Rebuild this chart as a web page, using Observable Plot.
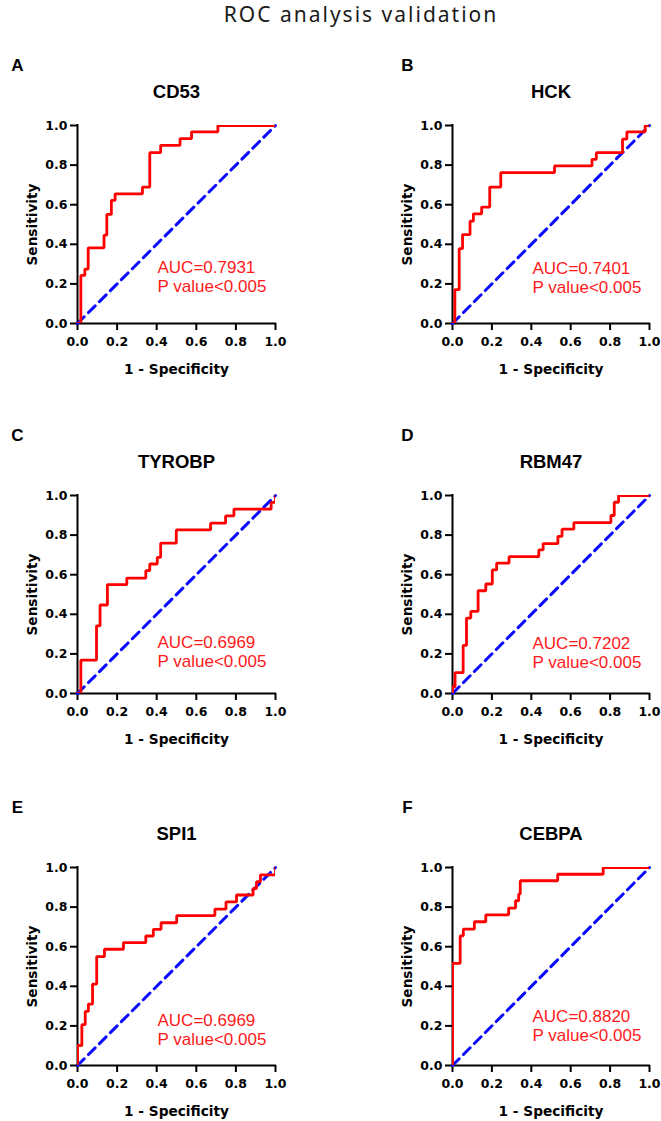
<!DOCTYPE html>
<html>
<head>
<meta charset="utf-8">
<script src="https://cdn.jsdelivr.net/npm/d3@7"></script>
<script src="https://cdn.jsdelivr.net/npm/@observablehq/plot@0.6"></script>
<style>
  html, body { margin: 0; padding: 0; background: #ffffff; }
  #wrap { position: relative; width: 661px; height: 1121px; overflow: hidden; background: #ffffff; }
  #title { position: absolute; top: 4px; left: 361px; transform: translateX(-50%); white-space: nowrap;
           font-family: "Noto Sans", "Open Sans", sans-serif; font-size: 21px; line-height: 21px;
           letter-spacing: 2px; color: #1a1a1a; }
  .panel { position: absolute; }
</style>
</head>
<body>
<div id="wrap"><div id="title">ROC analysis validation</div></div>
<script>
// ---------------- data ----------------
const genes = ["CD53", "HCK", "TYROBP", "RBM47", "SPI1", "CEBPA"];
const panelLetters = ["A", "B", "C", "D", "E", "F"];
const aucValues = ["0.7931", "0.7401", "0.6969", "0.7202", "0.6969", "0.8820"];
const pValueText = "P value<0.005";
const axisTicks = [0, 0.2, 0.4, 0.6, 0.8, 1.0];
const chanceLine = [0, 1];
const xAxisTitle = "1 - Specificity";
const yAxisTitle = "Sensitivity";

// step corners (1 - specificity, sensitivity)
const cd53Fpr = [0, 0.017, 0.037, 0.054, 0.134, 0.148, 0.171, 0.190, 0.328, 0.365, 0.420, 0.518, 0.576, 0.709, 1.0];
const cd53Tpr = [0, 0.243, 0.275, 0.382, 0.446, 0.551, 0.622, 0.655, 0.689, 0.863, 0.900, 0.934, 0.968, 1.0, 1.0];

const hckFpr = [0, 0.012, 0.034, 0.051, 0.089, 0.106, 0.148, 0.189, 0.245, 0.518, 0.708, 0.730, 0.863, 0.885, 0.978, 1.0];
const hckTpr = [0, 0.171, 0.378, 0.449, 0.517, 0.554, 0.588, 0.689, 0.762, 0.796, 0.829, 0.863, 0.931, 0.968, 1.0, 1.0];

const tyrobpFpr = [0, 0.017, 0.096, 0.114, 0.151, 0.249, 0.345, 0.365, 0.403, 0.420, 0.499, 0.672, 0.748, 0.790, 0.978, 1.0];
const tyrobpTpr = [0, 0.169, 0.342, 0.447, 0.550, 0.583, 0.621, 0.654, 0.688, 0.759, 0.826, 0.860, 0.897, 0.931, 0.965, 1.0];

const rbm47Fpr = [0, 0, 0.013, 0.054, 0.071, 0.093, 0.130, 0.169, 0.202, 0.224, 0.287, 0.438, 0.460, 0.535, 0.556, 0.616, 0.804, 0.821, 0.843, 1.0];
const rbm47Tpr = [0, 0.034, 0.105, 0.243, 0.381, 0.415, 0.519, 0.553, 0.624, 0.658, 0.691, 0.725, 0.757, 0.794, 0.830, 0.863, 0.899, 0.966, 1.0, 1.0];

const spi1Fpr = [0, 0, 0.022, 0.039, 0.055, 0.076, 0.097, 0.136, 0.232, 0.345, 0.383, 0.422, 0.501, 0.694, 0.750, 0.803, 0.887, 0.904, 0.924, 1.0];
const spi1Tpr = [0, 0.101, 0.206, 0.273, 0.310, 0.411, 0.550, 0.587, 0.621, 0.654, 0.688, 0.721, 0.757, 0.790, 0.826, 0.861, 0.894, 0.928, 0.963, 1.0];

const cebpaFpr = [0, 0, 0.039, 0.055, 0.111, 0.169, 0.285, 0.320, 0.336, 0.344, 0.534, 0.765, 1.0];
const cebpaTpr = [0, 0.516, 0.655, 0.689, 0.726, 0.761, 0.795, 0.832, 0.866, 0.933, 0.966, 1.0, 1.0];

const fprSeries = [cd53Fpr, hckFpr, tyrobpFpr, rbm47Fpr, spi1Fpr, cebpaFpr];
const tprSeries = [cd53Tpr, hckTpr, tyrobpTpr, rbm47Tpr, spi1Tpr, cebpaTpr];

// ---------------- layout ----------------
const colLeft = [0, 330];
const colWidth = [330, 331];
const mLeft = [77, 122];
const mRight = [55, 12];
const rowTop = [55, 425, 797];
const svgHeight = 328, mTop = 70, mBottom = 60;
const letterDx = [-60, -45];
const aucLift = [57, 56, 52, 51, 46, 50];

const wrap = document.getElementById("wrap");

genes.forEach((gene, i) => {
  const col = i % 2, row = Math.floor(i / 2);
  const pts = fprSeries[i].map((f, k) => ({fpr: f, tpr: tprSeries[i][k]}));
  const svg = Plot.plot({
    width: colWidth[col],
    height: svgHeight,
    marginLeft: mLeft[col],
    marginRight: mRight[col],
    marginTop: mTop,
    marginBottom: mBottom,
    x: {domain: [0, 1], label: null},
    y: {domain: [0, 1], label: null},
    style: {
      fontFamily: "'DejaVu Sans', sans-serif",
      fontWeight: "bold",
      fontSize: "12.5px",
      color: "#000",
      background: "transparent",
      overflow: "visible"
    },
    marks: [
      Plot.axisX(axisTicks, {tickSize: 7, tickPadding: 7, tickFormat: d3.format(".1f"), strokeWidth: 2, label: null, fontSize: 12.5}),
      Plot.axisY(axisTicks, {tickSize: 7, tickPadding: 3, tickFormat: d3.format(".1f"), strokeWidth: 2, label: null, fontSize: 12.5}),
      Plot.ruleY([0], {strokeWidth: 2, stroke: "#000", strokeLinecap: "square"}),
      Plot.ruleX([0], {strokeWidth: 2, stroke: "#000", strokeLinecap: "square"}),
      Plot.line(chanceLine, {x: d => d, y: d => d, stroke: "#0a0aff", strokeWidth: 3, strokeDasharray: "9.5,6"}),
      Plot.line(pts, {x: "fpr", y: "tpr", curve: "step-after", stroke: "#ff0000", strokeWidth: 2.8, strokeLinejoin: "miter", clip: true}),
      Plot.text([`AUC=${aucValues[i]}\n${pValueText}`], {frameAnchor: "bottom-left", textAnchor: "start", lineAnchor: "middle",
        lineHeight: 1.15, dx: 80, dy: -aucLift[i] + 9.75, fill: "#ff1a1a",
        fontFamily: "'Liberation Sans', Arial, sans-serif", fontWeight: "normal", fontSize: 17}),
      Plot.text([xAxisTitle], {frameAnchor: "bottom", lineAnchor: "middle", dy: 46, fontSize: 13.7, fill: "#000"}),
      Plot.text([yAxisTitle], {frameAnchor: "left", lineAnchor: "middle", textAnchor: "middle", rotate: -90, dx: -45, fontSize: 13.7, fill: "#000"}),
      Plot.text([gene], {frameAnchor: "top", lineAnchor: "middle", textAnchor: "middle", dy: -33,
        fontFamily: "'Liberation Sans', Arial, sans-serif", fontSize: 18.5, fill: "#000"}),
      Plot.text([panelLetters[i]], {frameAnchor: "top-left", lineAnchor: "middle", textAnchor: "middle", dx: letterDx[col], dy: -60,
        fontFamily: "'Liberation Sans', Arial, sans-serif", fontSize: 17, fill: "#000"})
    ]
  });
  const holder = document.createElement("div");
  holder.className = "panel";
  holder.style.left = colLeft[col] + "px";
  holder.style.top = rowTop[row] + "px";
  holder.appendChild(svg);
  wrap.appendChild(holder);
});
</script>
</body>
</html>
